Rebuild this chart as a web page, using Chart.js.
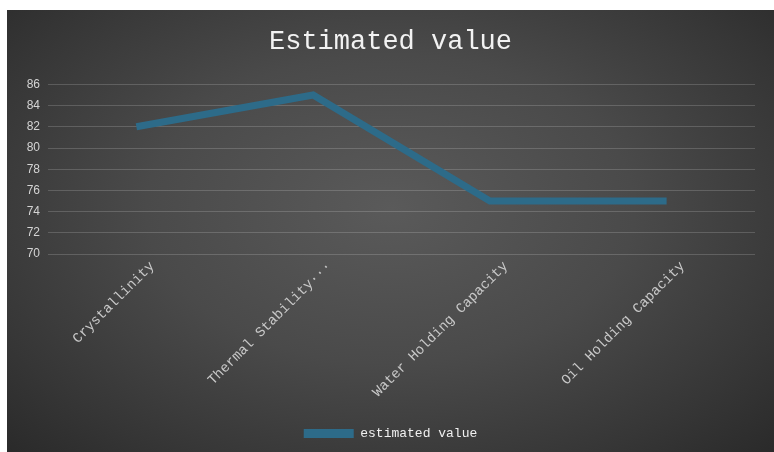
<!DOCTYPE html>
<html>
<head>
<meta charset="utf-8">
<script src="https://cdn.jsdelivr.net/npm/chart.js@4"></script>
<style>
    html, body { margin: 0; padding: 0; background: #fff; }
    #wrap {
        position: absolute;
        left: 7px; top: 10px;
        width: 767px; height: 442px;
        background: radial-gradient(ellipse at 50% 45%, #5a5a5a 0%, #4a4a4a 45%, #363636 80%, #2a2a2a 100%);
    }
</style>
</head>
<body>
<div id="wrap"><canvas id="lineChart" width="767" height="442"></canvas></div>
<script>
const categories = ['Crystallinity', 'Thermal Stability\u00b7\u00b7\u00b7', 'Water Holding Capacity', 'Oil Holding Capacity'];
const estimatedValues = [82, 85, 75, 75];
const seriesName = 'estimated value';
const yMin = 70;
const yMax = 86;
const yStep = 2;

const lineColor = '#2d6b89';
const mono = '"Liberation Mono", "DejaVu Sans Mono", monospace';

const ctx = document.getElementById('lineChart').getContext('2d');

new Chart(ctx, {
    type: 'line',
    data: {
        labels: categories,
        datasets: [{
            label: seriesName,
            data: estimatedValues,
            borderColor: lineColor,
            backgroundColor: lineColor,
            borderWidth: 7,
            tension: 0,
            pointRadius: 0,
            borderJoinStyle: 'miter',
            fill: false
        }]
    },
    options: {
        responsive: false,
        animation: false,
        layout: { padding: { left: 0, right: 0, top: 0, bottom: 2 } },
        plugins: {
            title: {
                display: true,
                text: 'Estimated value',
                color: '#f2f2f2',
                font: { family: mono, size: 27, weight: 'normal' },
                padding: { top: 16, bottom: 26 }
            },
            legend: {
                position: 'bottom',
                labels: {
                    color: '#f0f0f0',
                    font: { family: mono, size: 13 },
                    boxWidth: 50,
                    boxHeight: 9,
                    padding: 10,
                    generateLabels: (chart) => chart.data.datasets.map((d, i) => ({
                        text: d.label,
                        fillStyle: d.borderColor,
                        strokeStyle: d.borderColor,
                        lineWidth: 0,
                        fontColor: '#f0f0f0',
                        datasetIndex: i
                    }))
                }
            },
            tooltip: { enabled: false }
        },
        scales: {
            x: {
                offset: true,
                grid: { display: false },
                border: { display: false },
                ticks: {
                    color: '#c8c8c8',
                    font: { family: mono, size: 14 },
                    minRotation: 45,
                    maxRotation: 45,
                    autoSkip: false,
                    padding: -4,
                    labelOffset: 16
                },
                afterFit: (axis) => { axis.height = 163; }
            },
            y: {
                min: yMin,
                max: yMax,
                border: { display: false },
                grid: { color: 'rgba(255,255,255,0.17)', drawTicks: false, lineWidth: 1 },
                ticks: {
                    stepSize: yStep,
                    padding: 8,
                    color: '#d4d4d4',
                    font: { family: '"Liberation Sans", Arial, sans-serif', size: 12 }
                },
                afterFit: (axis) => { axis.width = 41; }
            },
            // empty right-hand axis, only reserves the gap after the last gridline
            yRight: {
                position: 'right',
                display: true,
                grid: { display: false },
                border: { display: false },
                ticks: { display: false },
                afterFit: (axis) => { axis.width = 19; }
            }
        }
    }
});
</script>
</body>
</html>
